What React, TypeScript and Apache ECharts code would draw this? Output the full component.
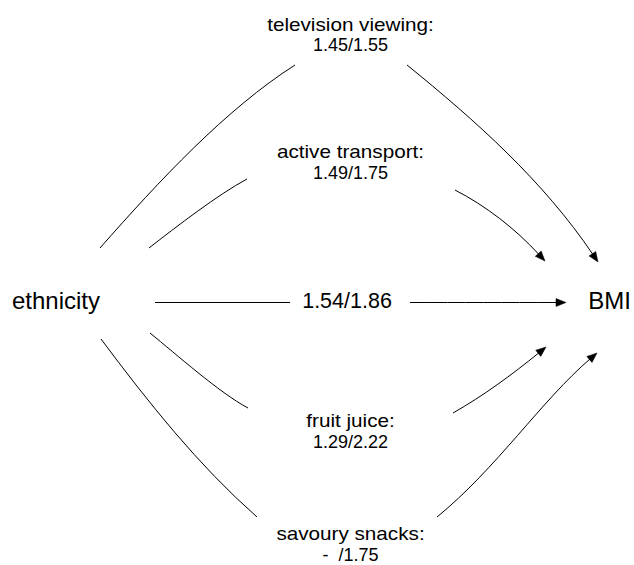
import React, { useEffect, useRef } from "react";
import * as echarts from "echarts";

// ---- Diagram content ----
const nodeNames = ["ethnicity", "BMI"];
const nodeX = [56, 609.5];
const nodeY = [300.5, 300.5];

const mediatorNames = ["television viewing:", "active transport:", "fruit juice:", "savoury snacks:"];
const mediatorEffectA = ["1.45", "1.49", "1.29", "-  "];
const mediatorEffectB = ["1.55", "1.75", "2.22", "1.75"];
const mediatorX = [350.5, 350.5, 350.5, 350.5];
const mediatorNameY = [24.5, 152, 420.5, 534];
const mediatorValueY = [45, 173, 441.5, 555];

const directEffectA = "1.54";
const directEffectB = "1.86";
const directLabelX = 347;
const directLabelY = 300.8;

// cubic path per edge: start, control1, control2, end, arrow flag
const edgePaths = [
  [100, 248, 159, 181, 226, 109, 295, 65, 0],
  [407, 65, 476, 121, 548, 188, 598, 262, 1],
  [149, 248, 176, 227, 218, 194.5, 247, 179, 0],
  [455, 190, 486, 206, 521, 235, 545, 261, 1],
  [150, 333, 176, 354, 219, 392.5, 248, 408, 0],
  [453, 413, 483, 396, 519, 369, 546, 347, 1],
  [101, 339, 148, 402, 198, 465, 257, 517, 0],
  [437, 517, 496, 469, 549, 394, 597, 353, 1],
  [155, 302.5, 200, 302.5, 245, 302.5, 290, 302.5, 0],
  [410, 302.5, 462, 302.5, 514, 302.5, 566, 302.5, 1],
];

const FONT = "'Liberation Sans', Arial, Helvetica, sans-serif";

export default function App() {
  const ref = useRef<HTMLDivElement>(null);

  useEffect(() => {
    const chart = echarts.init(ref.current!, null, { renderer: "svg" });

    const textItems: { text: string; x: number; y: number; size: number; sx: number }[] = [];
    nodeNames.forEach((n, i) => textItems.push({ text: n, x: nodeX[i], y: nodeY[i], size: 24, sx: 1 }));
    mediatorNames.forEach((n, i) => {
      textItems.push({ text: n, x: mediatorX[i], y: mediatorNameY[i], size: 18, sx: 1.15 });
      textItems.push({
        text: `${mediatorEffectA[i]}/${mediatorEffectB[i]}`,
        x: mediatorX[i],
        y: mediatorValueY[i],
        size: 18,
        sx: 1,
      });
    });
    textItems.push({ text: `${directEffectA}/${directEffectB}`, x: directLabelX, y: directLabelY, size: 21.5, sx: 1 });

    const AL = 10;
    const AW = 4;

    chart.setOption({
      animation: false,
      backgroundColor: "#ffffff",
      grid: { left: 0, right: 0, top: 0, bottom: 0 },
      xAxis: { type: "value", min: 0, max: 634, show: false },
      yAxis: { type: "value", min: 0, max: 565, inverse: true, show: false },
      series: [
        {
          type: "custom",
          clip: false,
          silent: true,
          data: edgePaths.map((e) => [e[0], e[1]]),
          renderItem: (params: any, api: any) => {
            const e = edgePaths[params.dataIndex];
            const p0 = api.coord([e[0], e[1]]);
            const p1 = api.coord([e[2], e[3]]);
            let p2 = api.coord([e[4], e[5]]);
            let p3 = api.coord([e[6], e[7]]);
            const children: any[] = [];
            if (e[8] === 1) {
              const dx = p3[0] - p2[0];
              const dy = p3[1] - p2[1];
              const len = Math.hypot(dx, dy) || 1;
              const ux = dx / len;
              const uy = dy / len;
              const tip = [p3[0], p3[1]];
              const bx = tip[0] - ux * AL;
              const by = tip[1] - uy * AL;
              const nx = -uy;
              const ny = ux;
              const s = AL - 1;
              p2 = [p2[0] - ux * s, p2[1] - uy * s];
              p3 = [p3[0] - ux * s, p3[1] - uy * s];
              children.push({
                type: "polygon",
                z2: 2,
                shape: {
                  points: [
                    tip,
                    [bx + nx * AW, by + ny * AW],
                    [bx - nx * AW, by - ny * AW],
                  ],
                },
                style: { fill: "#000", stroke: "#000", lineWidth: 0.5 },
              });
            }
            children.unshift({
              type: "bezierCurve",
              z2: 1,
              shape: {
                x1: p0[0],
                y1: p0[1],
                cpx1: p1[0],
                cpy1: p1[1],
                cpx2: p2[0],
                cpy2: p2[1],
                x2: p3[0],
                y2: p3[1],
              },
              style: { fill: "none", stroke: "#000", lineWidth: 1 },
            });
            return { type: "group", children };
          },
        },
        {
          type: "custom",
          clip: false,
          silent: true,
          data: textItems.map((t) => [t.x, t.y]),
          renderItem: (params: any, api: any) => {
            const t = textItems[params.dataIndex];
            const p = api.coord([t.x, t.y]);
            return {
              type: "text",
              x: p[0],
              y: p[1],
              scaleX: t.sx,
              style: {
                text: t.text,
                fill: "#000",
                fontSize: t.size,
                fontFamily: FONT,
                align: "center",
                verticalAlign: "middle",
                textAlign: "center",
                textVerticalAlign: "middle",
              },
            };
          },
        },
      ],
    });

    return () => chart.dispose();
  }, []);

  return (
    <div
      ref={ref}
      style={{ position: "absolute", left: 0, top: 0, width: 634, height: 565, background: "#fff" }}
    />
  );
}
